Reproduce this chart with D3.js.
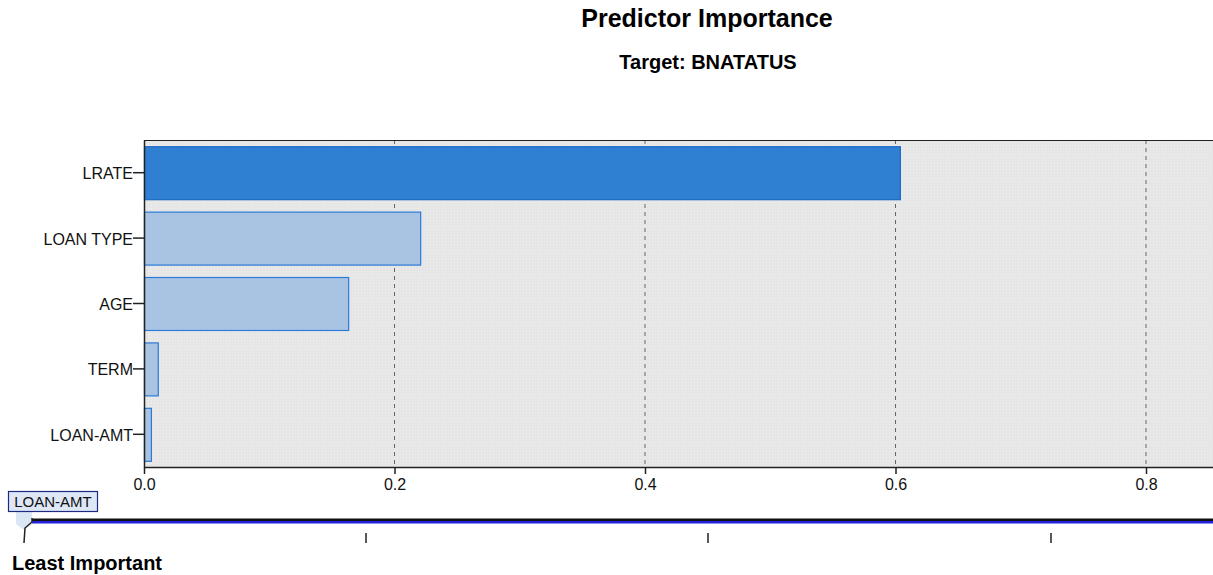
<!DOCTYPE html>
<html><head><meta charset="utf-8">
<script src="https://cdn.jsdelivr.net/npm/d3@7"></script>
<style>body{margin:0;background:#fff;overflow:hidden}svg{display:block;font-family:"Liberation Sans",Arial,sans-serif}</style>
</head><body>
<svg id="c" width="1213" height="575"></svg>
<script>
const categories = ["LRATE","LOAN TYPE","AGE","TERM","LOAN-AMT"];
const importance = [0.6035, 0.2205, 0.163, 0.011, 0.0055];
const xTicks = [0.0, 0.2, 0.4, 0.6, 0.8];
const sliderLabel = "LOAN-AMT";
const title = "Predictor Importance";
const subtitle = "Target: BNATATUS";
const footer = "Least Important";

const svg = d3.select("#c");
const L = 144, T = 140, B = 467, R = 1400;
const x = d3.scaleLinear().domain([0, 1]).range([L, L + 1252.5]);
const y = d3.scaleBand().domain(categories).range([T, B]).paddingInner(0.19).paddingOuter(0.095);

const defs = svg.append("defs");
const pat = defs.append("pattern").attr("id","bg").attr("width",3).attr("height",3).attr("patternUnits","userSpaceOnUse");
pat.append("rect").attr("width",3).attr("height",3).attr("fill","#e6e6e6");
pat.append("rect").attr("x",1).attr("y",1).attr("width",1).attr("height",1).attr("fill","#f0f0f0");

svg.append("text").attr("x",707).attr("y",27).attr("text-anchor","middle").attr("font-weight","bold").attr("font-size",25).text(title);
svg.append("text").attr("x",708).attr("y",69).attr("text-anchor","middle").attr("font-weight","bold").attr("font-size",20).text(subtitle);

svg.append("rect").attr("x",L).attr("y",T).attr("width",R-L).attr("height",B-T).attr("fill","url(#bg)");

svg.append("g").selectAll("line").data(xTicks.filter(d=>d>0)).join("line")
  .attr("x1",d=>x(d)).attr("x2",d=>x(d)).attr("y1",T).attr("y2",B)
  .attr("stroke","#666").attr("stroke-dasharray","4,4").attr("stroke-width",1);

svg.append("g").selectAll("rect").data(categories).join("rect")
  .attr("x",x(0)+0.5).attr("y",d=>y(d)+0.5)
  .attr("width",(d,i)=>x(importance[i])-x(0))
  .attr("height",y.bandwidth())
  .attr("fill",(d,i)=>i===0?"#2f7fd3":"#a9c4e3")
  .attr("stroke",(d,i)=>i===0?"#1c69c6":"#2a7ad8").attr("stroke-width",1.2);

svg.append("line").attr("x1",L).attr("x2",R).attr("y1",T+0.5).attr("y2",T+0.5).attr("stroke","#222");

const xa = svg.append("g").attr("transform",`translate(0,${B})`)
  .call(d3.axisBottom(x).tickValues(xTicks).tickFormat(d3.format(".1f")).tickSize(7).tickSizeOuter(0));
xa.select(".domain").attr("stroke","#222").attr("stroke-width",1.5);
xa.selectAll(".tick line").attr("stroke","#222").attr("stroke-width",1.5);
xa.selectAll("text").attr("font-size",16).attr("fill","#111").attr("y",9).attr("dy","0.9em");

const ya = svg.append("g").attr("transform",`translate(${L},0)`)
  .call(d3.axisLeft(y).tickSize(11).tickSizeOuter(0));
ya.select(".domain").attr("stroke","#222").attr("stroke-width",1.5);
ya.selectAll(".tick line").attr("stroke","#222").attr("stroke-width",1.5);
ya.selectAll("text").attr("font-size",16).attr("fill","#111").attr("x",-11).attr("dy","0.4em");

const s = svg.append("g");
s.append("rect").attr("x",32).attr("y",518.5).attr("width",1200).attr("height",2.5).attr("fill","#111");
s.append("rect").attr("x",32).attr("y",521).attr("width",1200).attr("height",2.5).attr("fill","#2222dd");
const sliderTicks = [366, 708, 1051];
s.selectAll("line.st").data(sliderTicks).join("line").attr("class","st")
  .attr("x1",d=>d).attr("x2",d=>d).attr("y1",533).attr("y2",543).attr("stroke","#222").attr("stroke-width",1.5);
s.append("path").attr("d","M16,512 L32,512 L32,524 L24,530 L16,524 Z").attr("fill","#dbe6f5");
s.append("path").attr("d","M32,518 L32,522 L25,528 L24,543").attr("fill","none").attr("stroke","#222").attr("stroke-width",1.5);
s.append("rect").attr("x",8.5).attr("y",491.5).attr("width",89).attr("height",20).attr("fill","#dde7f6").attr("stroke","#1e2a80").attr("stroke-width",1.2);
s.append("text").attr("x",53).attr("y",507).attr("text-anchor","middle").attr("font-size",15).attr("fill","#111").text(sliderLabel);
svg.append("text").attr("x",12).attr("y",570).attr("font-weight","bold").attr("font-size",20).text(footer);
</script>
</body></html>
